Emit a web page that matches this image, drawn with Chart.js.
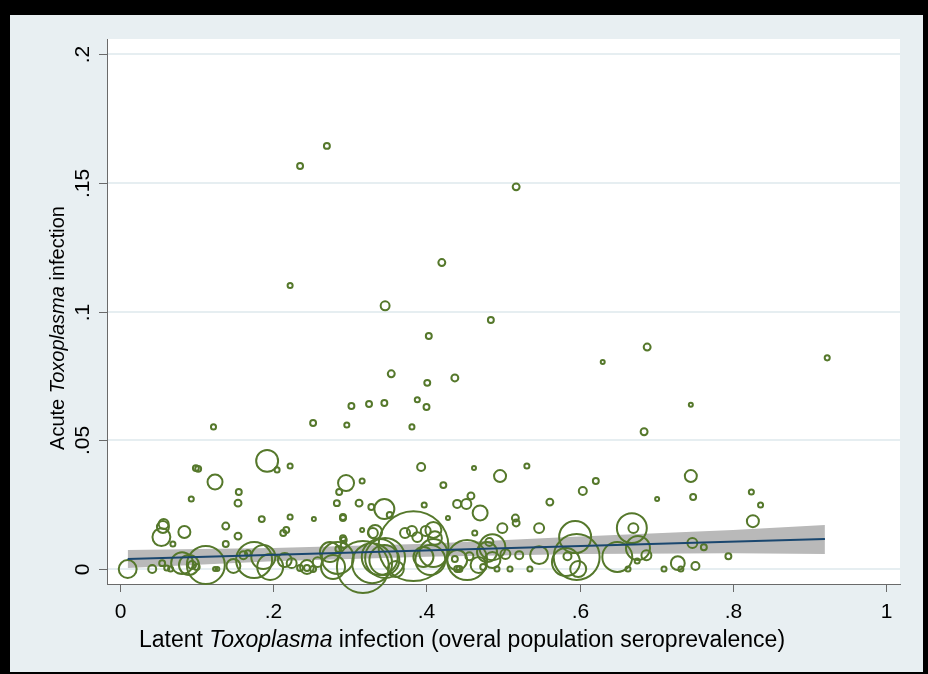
<!DOCTYPE html>
<html>
<head>
<meta charset="utf-8">
<script src="https://cdn.jsdelivr.net/npm/chart.js@4.4.1/dist/chart.umd.min.js"></script>
<style>
  html, body { margin: 0; padding: 0; background: #000; }
  body { width: 928px; height: 674px; position: relative; overflow: hidden; }
  #wrap { position: absolute; left: 10px; top: 15px; width: 913px; height: 657px; background: #e8eff2; }
  canvas { display: block; }
</style>
</head>
<body>
<div id="wrap"><canvas id="chart" width="913" height="657"></canvas></div>
<script>
// latent seroprevalence (x), acute infection (y), population weight (bubble size)
const latentPrev = [
  .270, .235, .517, .420, .222, .346, .484, .403, .354, .401, .437, .388, .400, .302, .325, .345, .122, .252, .296, .381,
  .630, .688, .923, .684, .745, .462, .496, .531, .621, .604, .561, .745, .748, .701, .824, .836, .826, .440, .452, .458,
  .470, .499, .516, .517, .547, .463, .668, .670, .099, .102, .222, .192, .205, .124, .093, .155, .154, .185, .222, .253,
  .295, .316, .286, .283, .312, .328, .345, .393, .422, .428, .397, .056, .057, .054, .084, .069, .138, .138, .154, .213,
  .217, .316, .330, .291, .292, .372, .381, .388, .399, .411, .291, .010, .042, .055, .061, .066, .081, .094, .100, .112,
  .090, .124, .127, .148, .161, .167, .175, .187, .196, .215, .224, .235, .244, .252, .258, .274, .278, .285, .292, .317,
  .339, .345, .383, .329, .360, .409, .396, .453, .486, .468, .440, .474, .503, .509, .492, .535, .521, .547, .584, .594,
  .596, .582, .598, .649, .676, .687, .675, .663, .710, .728, .732, .751, .747, .762, .794, .482, .456, .437, .443, .479,
  .284, .244, .346, .405, .440, .486, .333, .352, .409, .291
];
const acuteInf = [
  .1643, .1565, .1484, .1190, .1101, .1022, .0967, .0905, .0758, .0723, .0742, .0657, .0629, .0633, .0641, .0645, .0552, .0567, .0559, .0552,
  .0804, .0862, .0820, .0533, .0638, .0392, .0361, .0400, .0342, .0303, .0260, .0361, .0280, .0272, .0299, .0249, .0186, .0253, .0253, .0284,
  .0218, .0159, .0198, .0179, .0159, .0140, .0159, .0159, .0392, .0389, .0400, .0420, .0385, .0338, .0272, .0299, .0256, .0194, .0202, .0194,
  .0334, .0342, .0299, .0256, .0256, .0241, .0233, .0396, .0326, .0198, .0249, .0163, .0175, .0124, .0144, .0097, .0167, .0097, .0128, .0140,
  .0152, .0152, .0140, .0120, .0113, .0140, .0148, .0124, .0148, .0120, .0198, .0000, .0000, .0023, .0004, .0000, .0023, .0016, .0008, .0016,
  .0016, .0000, .0000, .0012, .0054, .0062, .0035, .0047, .0008, .0035, .0023, .0004, .0004, .0000, .0027, .0066, .0008, .0078, .0093, .0008,
  .0047, .0035, .0089, .0023, .0000, .0062, .0047, .0035, .0085, .0016, .0000, .0008, .0058, .0000, .0000, .0000, .0054, .0054, .0050, .0124,
  .0047, .0027, .0000, .0047, .0082, .0054, .0031, .0000, .0000, .0023, .0000, .0012, .0101, .0085, .0050, .0105, .0050, .0039, .0000, .0066,
  .0043, .0008, .0043, .0035, .0035, .0035, .0144, .0210, .0152, .0202
];
const popWeight = [
  2.2, 2.2, 3, 3, 1.6, 5, 2.2, 2.2, 3, 2.2, 3, 1.6, 2.2, 2.2, 2.2, 2.2, 1.6, 2.2, 1.6, 1.6,
  1, 3, 1.6, 3, 1, 1, 9, 1.6, 2.2, 4, 3, 9, 2.2, 1, 1.6, 1.6, 9, 4, 6.2, 3,
  14, 6.2, 3, 3, 6.2, 1.6, 56, 6.2, 2.2, 2.2, 1.6, 30, 1.6, 14, 1.6, 2.2, 3, 2.2, 1.6, 1,
  16, 1.6, 2.2, 2.2, 3, 2.2, 25, 4, 2.2, 1, 1.6, 9, 6.2, 20, 9, 1.6, 3, 2.2, 3, 2.2,
  2.2, 1, 6.2, 2.2, 2.2, 6.2, 6.2, 6.2, 6.2, 12, 2.2, 20, 4, 2.2, 1.6, 1.6, 30, 4, 2.2, 90,
  25, 1, 1, 12, 4, 2.2, 81, 36, 42, 12, 6.2, 2.2, 2.2, 2.2, 6.2, 25, 36, 2.2, 2.2, 169,
  81, 56, 306, 100, 16, 49, 25, 100, 42, 16, 2.2, 2.2, 6.2, 1.6, 1.6, 1.6, 4, 20, 4, 64,
  132, 49, 16, 56, 36, 6.2, 1.6, 1.6, 1.6, 12, 1.6, 4, 6.2, 2.2, 2.2, 4, 4, 2.2, 2.2, 25,
  64, 12, 100, 56, 25, 16, 12, 2.2, 16, 2.2
];

// linear fit and its 95% CI
const fitX = [0.01, 0.92];
const fitY = [0.0039, 0.0117];
const bandX = [0.01, 0.2, 0.4, 0.6, 0.8, 0.92];
const bandLo = [0.0004, 0.0030, 0.0048, 0.0058, 0.0061, 0.0058];
const bandHi = [0.0074, 0.0082, 0.0098, 0.0126, 0.0152, 0.0171];

const xTicks = [0, 0.2, 0.4, 0.6, 0.8, 1];
const xTickLabels = ['0', '.2', '.4', '.6', '.8', '1'];
const yTicks = [0, 0.05, 0.1, 0.15, 0.2];
const yTickLabels = ['0', '.05', '.1', '.15', '.2'];

const FONT = '"Liberation Sans", Arial, sans-serif';
const olive = '#55782b';

const bubbles = latentPrev.map((x, i) => ({ x: x, y: acuteInf[i], r: Math.max(2, 2 * Math.sqrt(popWeight[i])) }));
const fitLine = fitX.map((x, i) => ({ x: x, y: fitY[i] }));
const hiLine = bandX.map((x, i) => ({ x: x, y: bandHi[i] }));
const loLine = bandX.map((x, i) => ({ x: x, y: bandLo[i] }));

// Stata-ish frame: white plot region, outside ticks, rotated y labels, italic words in titles
const stataFrame = {
  id: 'stataFrame',
  beforeDraw(chart) {
    const { ctx, chartArea: a } = chart;
    ctx.save();
    ctx.fillStyle = '#ffffff';
    ctx.fillRect(a.left, a.top, a.right - a.left, a.bottom - a.top);
    ctx.restore();
  },
  afterDraw(chart) {
    const { ctx, chartArea: a } = chart;
    const xs = chart.scales.x, ys = chart.scales.y;
    ctx.save();
    ctx.strokeStyle = '#6a6a6a';
    ctx.lineWidth = 1;
    ctx.fillStyle = '#000';
    ctx.font = '21px ' + FONT;

    // x ticks
    xTicks.forEach((v, i) => {
      const px = Math.round(xs.getPixelForValue(v)) + 0.5;
      ctx.beginPath();
      ctx.moveTo(px, a.bottom);
      ctx.lineTo(px, a.bottom + 8);
      ctx.stroke();
      ctx.textAlign = 'center';
      ctx.textBaseline = 'alphabetic';
      ctx.fillText(xTickLabels[i], px, 603);
    });

    // y ticks (labels rotated)
    yTicks.forEach((v, i) => {
      const py = Math.round(ys.getPixelForValue(v)) + 0.5;
      ctx.beginPath();
      ctx.moveTo(a.left - 8, py);
      ctx.lineTo(a.left, py);
      ctx.stroke();
      ctx.save();
      ctx.translate(79, py);
      ctx.rotate(-Math.PI / 2);
      ctx.textAlign = 'center';
      ctx.textBaseline = 'alphabetic';
      ctx.fillText(yTickLabels[i], 0, 0);
      ctx.restore();
    });

    // mixed-style axis titles
    const drawParts = (parts, cx, size) => {
      const f = it => (it ? 'italic ' : '') + size + 'px ' + FONT;
      const widths = parts.map(p => { ctx.font = f(p[1]); return ctx.measureText(p[0]).width; });
      let x = cx - widths.reduce((s, w) => s + w, 0) / 2;
      ctx.textAlign = 'left';
      ctx.textBaseline = 'alphabetic';
      parts.forEach((p, i) => {
        ctx.font = f(p[1]);
        ctx.fillText(p[0], x, 0);
        x += widths[i];
      });
    };
    ctx.save();
    ctx.translate(0, 632);
    drawParts([['Latent ', false], ['Toxoplasma', true], [' infection (overal population seroprevalence)', false]], 452, 23);
    ctx.restore();

    ctx.save();
    ctx.translate(54, 313);
    ctx.rotate(-Math.PI / 2);
    drawParts([['Acute ', false], ['Toxoplasma', true], [' infection', false]], 0, 20);
    ctx.restore();

    ctx.restore();
  }
};

new Chart(document.getElementById('chart'), {
  type: 'scatter',
  data: {
    datasets: [
      {
        type: 'line', data: fitLine, borderColor: '#1a476f', borderWidth: 2,
        pointRadius: 0, fill: false, order: 0
      },
      {
        type: 'bubble', data: bubbles, backgroundColor: 'rgba(0,0,0,0)',
        borderColor: olive, borderWidth: 2, hoverBorderWidth: 2, clip: false, order: 1
      },
      {
        type: 'line', data: hiLine, borderWidth: 0, pointRadius: 0,
        backgroundColor: '#b9b9b9', fill: '+1', order: 2
      },
      {
        type: 'line', data: loLine, borderWidth: 0, pointRadius: 0,
        fill: false, order: 3
      }
    ]
  },
  options: {
    responsive: false,
    animation: false,
    events: [],
    layout: { autoPadding: false, padding: { left: 97, right: 23, top: 24, bottom: 88 } },
    plugins: { legend: { display: false }, tooltip: { enabled: false } },
    scales: {
      x: {
        type: 'linear', min: -0.017, max: 1.018,
        afterBuildTicks: s => { s.ticks = xTicks.map(v => ({ value: v })); },
        ticks: { display: false },
        grid: { display: false, drawTicks: false },
        border: { display: true, color: '#6a6a6a', width: 1 }
      },
      y: {
        type: 'linear', min: -0.0058, max: 0.2058,
        afterBuildTicks: s => { s.ticks = yTicks.map(v => ({ value: v })); },
        ticks: { display: false },
        grid: { display: true, drawTicks: false, color: '#e6eef1', lineWidth: 2 },
        border: { display: true, color: '#6a6a6a', width: 1 }
      }
    }
  },
  plugins: [stataFrame]
});
</script>
</body>
</html>
